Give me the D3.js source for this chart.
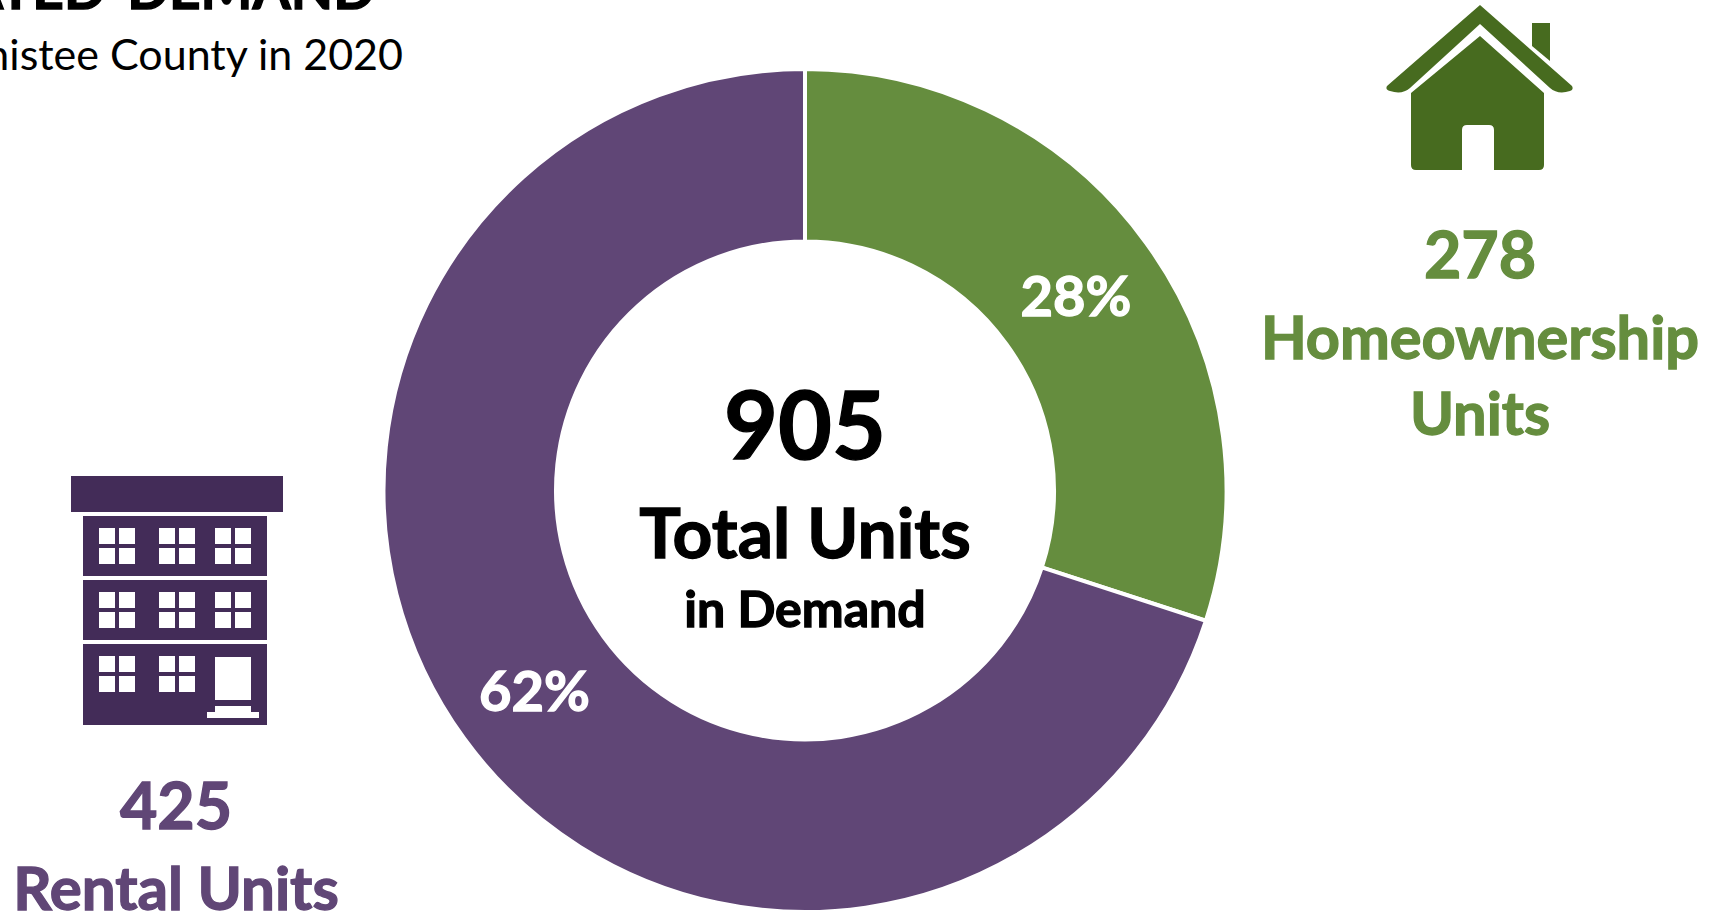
<!DOCTYPE html>
<html>
<head>
<meta charset="utf-8">
<script src="https://cdn.jsdelivr.net/npm/d3@7"></script>
<style>
  html, body { margin: 0; padding: 0; background: #fff; overflow: hidden; }
  text { font-family: Lato, "Open Sans", sans-serif; }
  .heavy { font-weight: 700; stroke-width: 1.3px; paint-order: stroke; }
</style>
</head>
<body>
<svg id="chart"></svg>
<script>
const categories = ['Homeownership', 'Rental'];
// slice shares as drawn; the printed labels do not add up to 100
const sliceShares = [30, 70];
const pctLabels = ['28%', '62%'];
const unitCounts = ['278', '425'];
const totalUnits = '905';

const width = 1709, height = 912;
const cx = 805, cy = 490.5, outerR = 421.5, innerR = 249;
const colors = { Homeownership: '#658d3e', Rental: '#604676' };
const iconGreen = '#476b1f', iconPurple = '#432c58';

const svg = d3.select('#chart').attr('width', width).attr('height', height);

// small helper, every text block here is an anchored stack of lines
function textStack(cls, lines, x, fill) {
  svg.selectAll(`.${cls}`).data(lines).join('text')
    .attr('class', `${cls} heavy`)
    .attr('x', x)
    .attr('y', (d) => d[1])
    .attr('text-anchor', 'middle')
    .attr('font-size', (d) => d[2])
    .attr('fill', fill)
    .attr('stroke', fill)
    .text((d) => d[0]);
}

// Title, runs off the top left of the crop
svg.append('text').attr('class', 'heavy').attr('x', 375).attr('y', 9).attr('text-anchor', 'end')
  .attr('font-size', 55).attr('word-spacing', 8).attr('stroke', '#000').text('ESTIMATED DEMAND');
svg.append('text').attr('x', 403).attr('y', 70).attr('text-anchor', 'end')
  .attr('font-size', 43).text('Manistee County in 2020');

// Donut
const pie = d3.pie().sort(null).value((d) => d.share);
const rows = categories.map((c, i) => ({ name: c, share: sliceShares[i], label: pctLabels[i] }));
const arc = d3.arc().innerRadius(innerR).outerRadius(outerR);
const donut = svg.append('g').attr('transform', `translate(${cx},${cy})`);

donut.selectAll('path').data(pie(rows)).join('path')
  .attr('d', arc)
  .attr('fill', (d) => colors[d.data.name])
  .attr('stroke', '#fff')
  .attr('stroke-width', 4);

const pctPos = { Homeownership: [1076, 316], Rental: [534.5, 711] };
svg.selectAll('.pct').data(rows).join('text')
  .attr('class', 'pct heavy')
  .attr('x', (d) => pctPos[d.name][0])
  .attr('y', (d) => pctPos[d.name][1])
  .attr('text-anchor', 'middle')
  .attr('font-size', 56)
  .attr('fill', '#fff')
  .attr('stroke', '#fff')
  .text((d) => d.label);

// Center text
textStack('center', [[totalUnits, 459, 93], ['Total Units', 558, 69.5], ['in Demand', 627, 50]], cx, '#000');

// Side labels
textStack('green', [[unitCounts[0], 278, 64.5], ['Homeownership', 358.5, 59.5], ['Units', 434.5, 59.5]], 1480, colors.Homeownership);
textStack('purple', [[unitCounts[1], 829, 64.5], ['Rental Units', 910, 60]], 176, colors.Rental);

// House icon
const house = svg.append('g').attr('fill', iconGreen);
house.append('path').attr('d', 'M1532 23H1550V61L1532 46Z');
house.append('path').attr('d', 'M1480 5L1572 86Q1574 90 1570 91Q1558 95 1550 88L1480 24L1410 88Q1402 95 1390 91Q1385 90 1387 86Z');
house.append('path').attr('fill-rule', 'evenodd')
  .attr('d', 'M1480 36L1544 93V165Q1544 170 1539 170H1494V130Q1494 125 1489 125H1467Q1462 125 1462 130V170H1416Q1411 170 1411 165V93Z');

// Building icon
const building = svg.append('g');
building.append('rect').attr('x', 71).attr('y', 476).attr('width', 212).attr('height', 36).attr('fill', iconPurple);
const floorTops = [516, 580, 644];
const floorHeights = [60, 60, 81];
floorTops.forEach((top, f) => {
  building.append('rect').attr('x', 83).attr('y', top).attr('width', 184).attr('height', floorHeights[f]).attr('fill', iconPurple);
  const winX = f === 2 ? [99, 159] : [99, 159, 215];
  winX.forEach((x) => {
    [0, 20].forEach((dx) => [12, 32].forEach((dy) => {
      building.append('rect').attr('x', x + dx).attr('y', top + dy).attr('width', 16).attr('height', 16).attr('fill', '#fff');
    }));
  });
});
building.append('rect').attr('x', 215).attr('y', 657).attr('width', 36).attr('height', 43).attr('fill', '#fff');
building.append('rect').attr('x', 215).attr('y', 706).attr('width', 36).attr('height', 6).attr('fill', '#fff');
building.append('rect').attr('x', 207).attr('y', 712).attr('width', 52).attr('height', 6).attr('fill', '#fff');
</script>
</body>
</html>
